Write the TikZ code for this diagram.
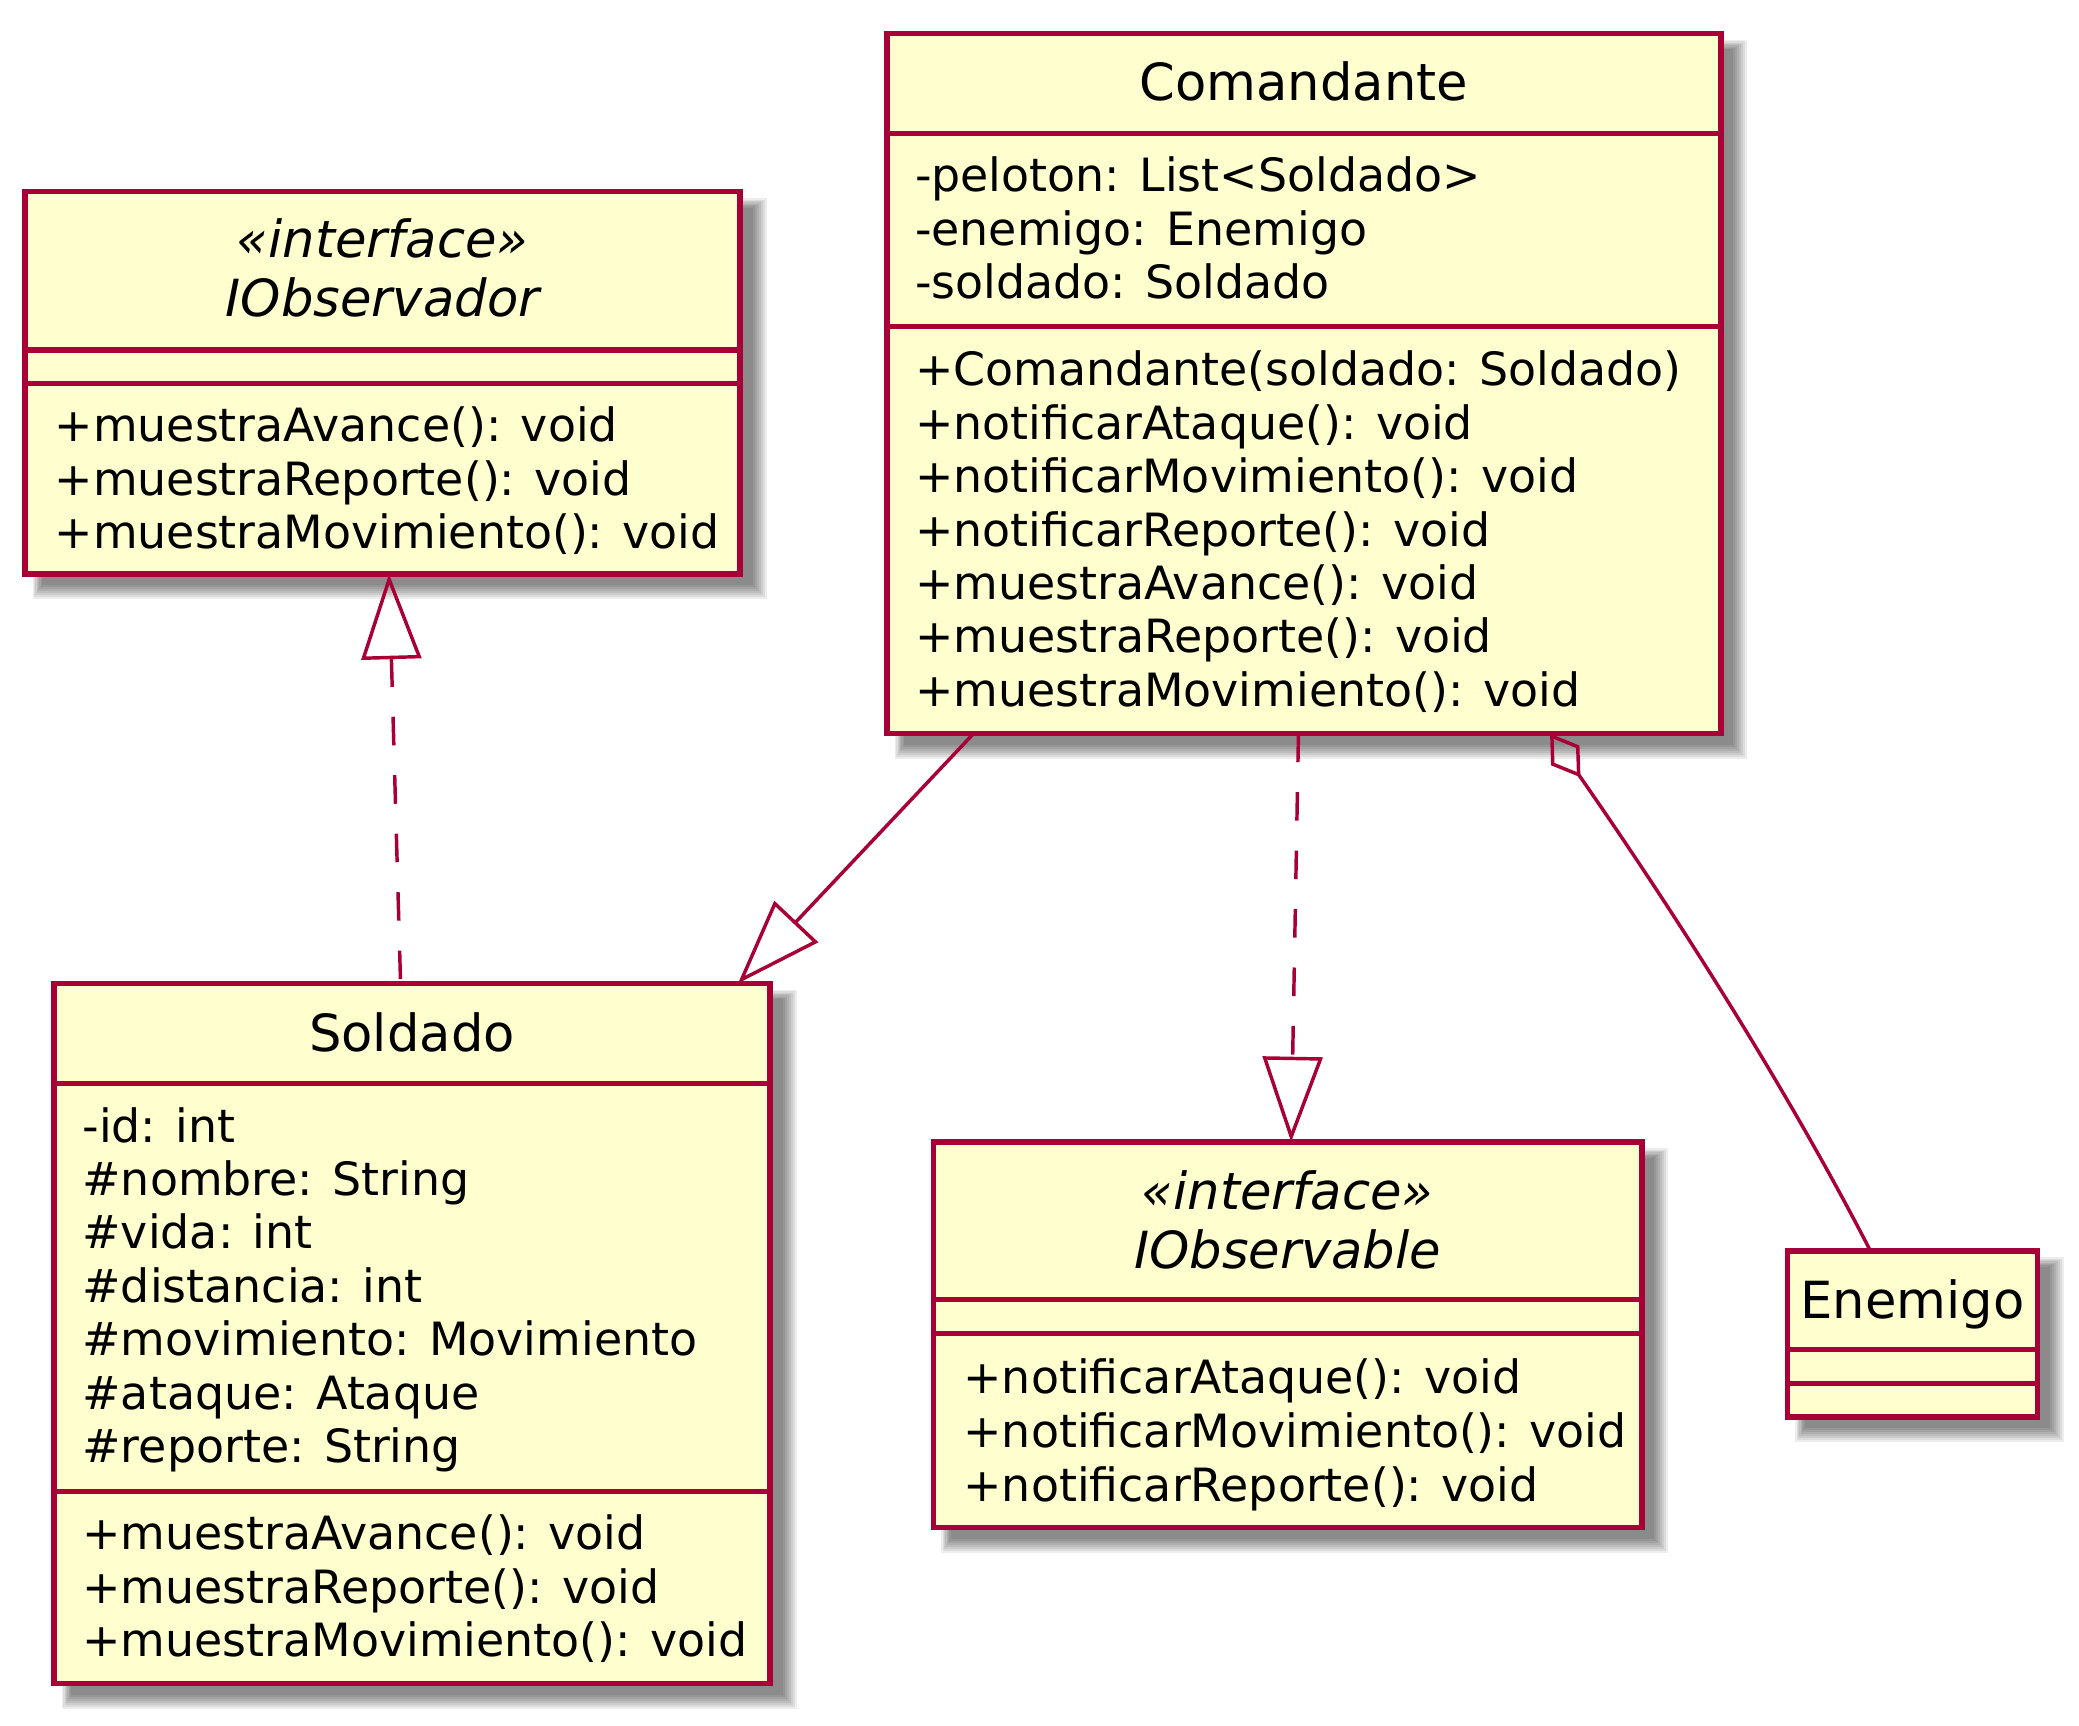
\documentclass[tikz,border=0pt]{standalone}
\usepackage{fontspec}
\setmainfont{DejaVu Sans}
\usetikzlibrary{arrows.meta,calc}
\definecolor{umlfill}{HTML}{FEFECE}
\definecolor{umlline}{HTML}{A80036}
\newcommand\umlshadow[4]{%
  \foreach \k in {0,...,7}{%
    \fill[black, opacity=0.07] ({#1+6+\k},{#2+5+\k}) rectangle ({#3+20-1.5*\k},{#4+19-1.5*\k});
  }}
\tikzset{
  classbox/.style={draw=umlline, fill=umlfill, line width=4.2pt, rectangle, outer sep=0pt, inner sep=0pt, anchor=north west},
  sepline/.style={draw=umlline, line width=4.2pt},
  memberline/.style={anchor=base west, inner sep=0pt, font=\fontsize{34.5}{40}\selectfont},
  classtitle/.style={anchor=base, inner sep=0pt, font=\fontsize{38.5}{46}\selectfont},
  itclasstitle/.style={anchor=base, inner sep=0pt, font=\fontsize{38.5}{46}\selectfont\itshape},
  conn/.style={draw=umlline, line width=2.6pt},
  dashedconn/.style={conn, dash pattern=on 21.5pt off 22.5pt},
  gentip/.tip={Triangle[open,length=64pt,width=45pt]},
  aggtip/.tip={Diamond[open,length=40pt,width=26pt]},
}
\begin{document}
\begin{tikzpicture}[x=1pt,y=-1pt]
\fill[white] (0,0) rectangle (1564.3,1298);
\useasboundingbox (0,0) rectangle (1564.3,1298);

% shadows
\umlshadow{18.7}{144.2}{557}{432}
\umlshadow{667.3}{25.1}{1294.7}{552}
\umlshadow{40.6}{739.9}{579.4}{1266.6}
\umlshadow{702.3}{859.1}{1235.3}{1149.2}
\umlshadow{1344.8}{941.1}{1533.2}{1066}

% IObservador
\node[classbox, minimum width=538.3pt, minimum height=287.8pt] (obsr) at (18.7,144.2) {};
\draw[sepline] ([yshift=-119.2pt]obsr.north west) -- ([yshift=-119.2pt]obsr.north east);
\draw[sepline] ([yshift=-144.2pt]obsr.north west) -- ([yshift=-144.2pt]obsr.north east);
\node[itclasstitle] (obsrS) at (287.9,194) {«interface»};
\node[itclasstitle] (obsrN) at (287.9,238.3) {IObservador};
\node[memberline] (obsrM1) at (41,332.3) {+muestraAvance(): void};
\node[memberline] (obsrM2) at (41,372.5) {+muestraReporte(): void};
\node[memberline] (obsrM3) at (41,412.6) {+muestraMovimiento(): void};

% Comandante
\node[classbox, minimum width=627.4pt, minimum height=526.9pt] (coma) at (667.3,25.1) {};
\draw[sepline] ([yshift=-75.2pt]coma.north west) -- ([yshift=-75.2pt]coma.north east);
\draw[sepline] ([yshift=-220.7pt]coma.north west) -- ([yshift=-220.7pt]coma.north east);
\node[classtitle] (comaN) at (981,75.6) {Comandante};
\node[memberline] (comaA1) at (688.3,144.3) {-peloton: List<Soldado>};
\node[memberline] (comaA2) at (688.3,184.4) {-enemigo: Enemigo};
\node[memberline] (comaA3) at (688.3,224.6) {-soldado: Soldado};
\node[memberline] (comaM1) at (688.3,290.4) {+Comandante(soldado: Soldado)};
\node[memberline] (comaM2) at (688.3,330.6) {+notificarAtaque(): void};
\node[memberline] (comaM3) at (688.3,370.7) {+notificarMovimiento(): void};
\node[memberline] (comaM4) at (688.3,410.9) {+notificarReporte(): void};
\node[memberline] (comaM5) at (688.3,451.1) {+muestraAvance(): void};
\node[memberline] (comaM6) at (688.3,491.3) {+muestraReporte(): void};
\node[memberline] (comaM7) at (688.3,531.5) {+muestraMovimiento(): void};

% Soldado
\node[classbox, minimum width=538.8pt, minimum height=526.7pt] (sold) at (40.6,739.9) {};
\draw[sepline] ([yshift=-75.4pt]sold.north west) -- ([yshift=-75.4pt]sold.north east);
\draw[sepline] ([yshift=-382.4pt]sold.north west) -- ([yshift=-382.4pt]sold.north east);
\node[classtitle] (soldN) at (310,791.3) {Soldado};
\node[memberline] (soldA1) at (61.9,859.3) {-id: int};
\node[memberline] (soldA2) at (61.9,899.5) {\#nombre: String};
\node[memberline] (soldA3) at (61.9,939.7) {\#vida: int};
\node[memberline] (soldA4) at (61.9,979.9) {\#distancia: int};
\node[memberline] (soldA5) at (61.9,1020.1) {\#movimiento: Movimiento};
\node[memberline] (soldA6) at (61.9,1060.3) {\#ataque: Ataque};
\node[memberline] (soldA7) at (61.9,1100.5) {\#reporte: String};
\node[memberline] (soldM1) at (61.9,1166.2) {+muestraAvance(): void};
\node[memberline] (soldM2) at (61.9,1206.4) {+muestraReporte(): void};
\node[memberline] (soldM3) at (61.9,1246.6) {+muestraMovimiento(): void};

% IObservable
\node[classbox, minimum width=533pt, minimum height=290.1pt] (iobl) at (702.3,859.1) {};
\draw[sepline] ([yshift=-118.6pt]iobl.north west) -- ([yshift=-118.6pt]iobl.north east);
\draw[sepline] ([yshift=-144.1pt]iobl.north west) -- ([yshift=-144.1pt]iobl.north east);
\node[itclasstitle] (ioblS) at (968.8,910.2) {«interface»};
\node[itclasstitle] (ioblN) at (968.8,954.1) {IObservable};
\node[memberline] (ioblM1) at (724.8,1048.8) {+notificarAtaque(): void};
\node[memberline] (ioblM2) at (724.8,1089.2) {+notificarMovimiento(): void};
\node[memberline] (ioblM3) at (724.8,1129.6) {+notificarReporte(): void};

% Enemigo
\node[classbox, minimum width=188.4pt, minimum height=124.9pt] (enem) at (1344.8,941.1) {};
\draw[sepline] ([yshift=-74.2pt]enem.north west) -- ([yshift=-74.2pt]enem.north east);
\draw[sepline] ([yshift=-99.8pt]enem.north west) -- ([yshift=-99.8pt]enem.north east);
\node[classtitle] (enemN) at (1439,992) {Enemigo};

% connectors
\draw[dashedconn, {gentip}-] ([xshift=274pt]obsr.south west) -- ([xshift=260.8pt]sold.north west);
\draw[conn, -{gentip}] ([xshift=65.2pt]coma.south west) -- ([xshift=514.7pt]sold.north west);
\draw[dashedconn, -{gentip}] ([xshift=309.7pt]coma.south west) -- ([xshift=269.2pt]iobl.north west);
\draw[conn, {aggtip}-] ([xshift=499pt]coma.south west) .. controls (1250,672) and (1341,811.9) .. ([xshift=62.5pt]enem.north west);
\end{tikzpicture}
\end{document}
